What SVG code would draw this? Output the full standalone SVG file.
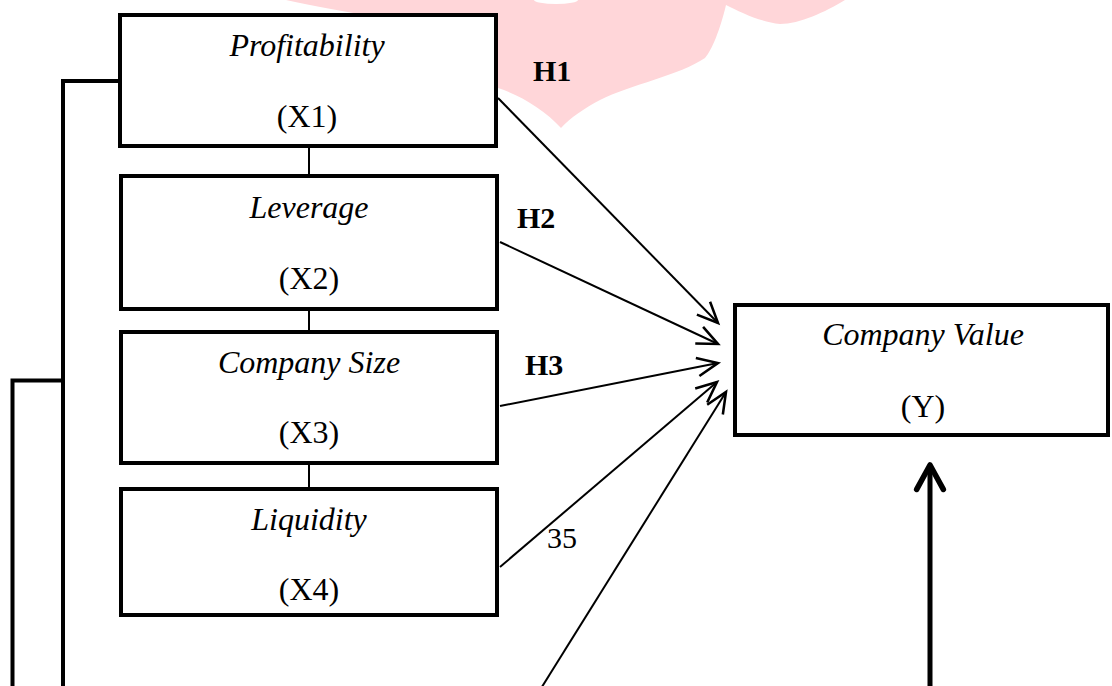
<svg xmlns="http://www.w3.org/2000/svg" width="1112" height="686" viewBox="0 0 1112 686">
  <style>
    .box { fill: #ffffff; stroke: #000000; stroke-width: 4; }
    .lbl { font-family: "Liberation Serif", "Times New Roman", serif; font-size: 32px; fill: #000; text-anchor: middle; }
    .it { font-style: italic; }
    .hyp { font-family: "Liberation Serif", "Times New Roman", serif; font-size: 30px; font-weight: bold; fill: #000; }
    .num { font-family: "Liberation Serif", "Times New Roman", serif; font-size: 30px; fill: #000; }
    .thin { fill: none; stroke: #000; stroke-width: 2; }
    .thick { fill: none; stroke: #000; stroke-width: 4; }
  </style>
  <defs>
    <marker id="open" markerUnits="userSpaceOnUse" markerWidth="30" markerHeight="30" viewBox="-22 -12 26 24" refX="0" refY="0" orient="auto">
      <path d="M-18,-8 L0,0 L-18,8" fill="none" stroke="#000" stroke-width="2.2" stroke-linejoin="miter"/>
    </marker>
    <marker id="bold" markerUnits="userSpaceOnUse" markerWidth="40" markerHeight="40" viewBox="-30 -18 34 36" refX="0" refY="0" orient="auto">
      <path d="M-22,-12 L0,0 L-22,12" fill="none" stroke="#000" stroke-width="5" stroke-linecap="round" stroke-linejoin="round"/>
    </marker>
  </defs>

  <rect width="1112" height="686" fill="#ffffff"/>

  <g id="watermark">
    <path d="M286,0 L845,0 C825,12 800,24 780,24 C760,22 740,12 726,5 C720,30 712,50 705,58 C680,75 630,85 600,100 C585,108 570,118 561,128 C545,110 520,95 498,88 L498,33 C420,25 340,12 286,0 Z" fill="#ffd6d9"/>
    <ellipse cx="556" cy="0" rx="22" ry="4" fill="#ffffff"/>
  </g>

  <g id="connectors">
    <path class="thick" d="M118,81 H63 V690"/>
    <path class="thick" d="M63,380.5 H12.5 V690"/>
    <line class="thin" x1="309" y1="148" x2="309" y2="174"/>
    <line class="thin" x1="309" y1="311" x2="309" y2="330"/>
    <line class="thin" x1="309" y1="465" x2="309" y2="487"/>
    <line class="thin" x1="498" y1="98" x2="718" y2="323" marker-end="url(#open)"/>
    <line class="thin" x1="500" y1="242" x2="718" y2="344" marker-end="url(#open)"/>
    <line class="thin" x1="500" y1="406" x2="718" y2="363" marker-end="url(#open)"/>
    <line class="thin" x1="500" y1="567" x2="717" y2="382" marker-end="url(#open)"/>
    <line class="thin" x1="540" y1="690" x2="726" y2="392" marker-end="url(#open)"/>
    <line x1="930" y1="690" x2="930" y2="465" stroke="#000" stroke-width="5" marker-end="url(#bold)"/>
  </g>

  <g id="x1">
    <rect class="box" x="120" y="15" width="376" height="131"/>
    <text class="lbl it" x="307" y="56">Profitability</text>
    <text class="lbl" x="307" y="127">(X1)</text>
  </g>
  <g id="x2">
    <rect class="box" x="121" y="176" width="376" height="133"/>
    <text class="lbl it" x="309" y="218">Leverage</text>
    <text class="lbl" x="309" y="289">(X2)</text>
  </g>
  <g id="x3">
    <rect class="box" x="121" y="332" width="376" height="131"/>
    <text class="lbl it" x="309" y="373">Company Size</text>
    <text class="lbl" x="309" y="443">(X3)</text>
  </g>
  <g id="x4">
    <rect class="box" x="121" y="489" width="376" height="126"/>
    <text class="lbl it" x="309" y="530">Liquidity</text>
    <text class="lbl" x="309" y="600">(X4)</text>
  </g>
  <g id="y">
    <rect class="box" x="735" y="305" width="373" height="130"/>
    <text class="lbl it" x="923" y="345">Company Value</text>
    <text class="lbl" x="923" y="417">(Y)</text>
  </g>

  <g id="labels">
    <text class="hyp" x="533" y="81">H1</text>
    <text class="hyp" x="517" y="228">H2</text>
    <text class="hyp" x="525" y="375">H3</text>
    <text class="num" x="547" y="548">35</text>
  </g>
</svg>
